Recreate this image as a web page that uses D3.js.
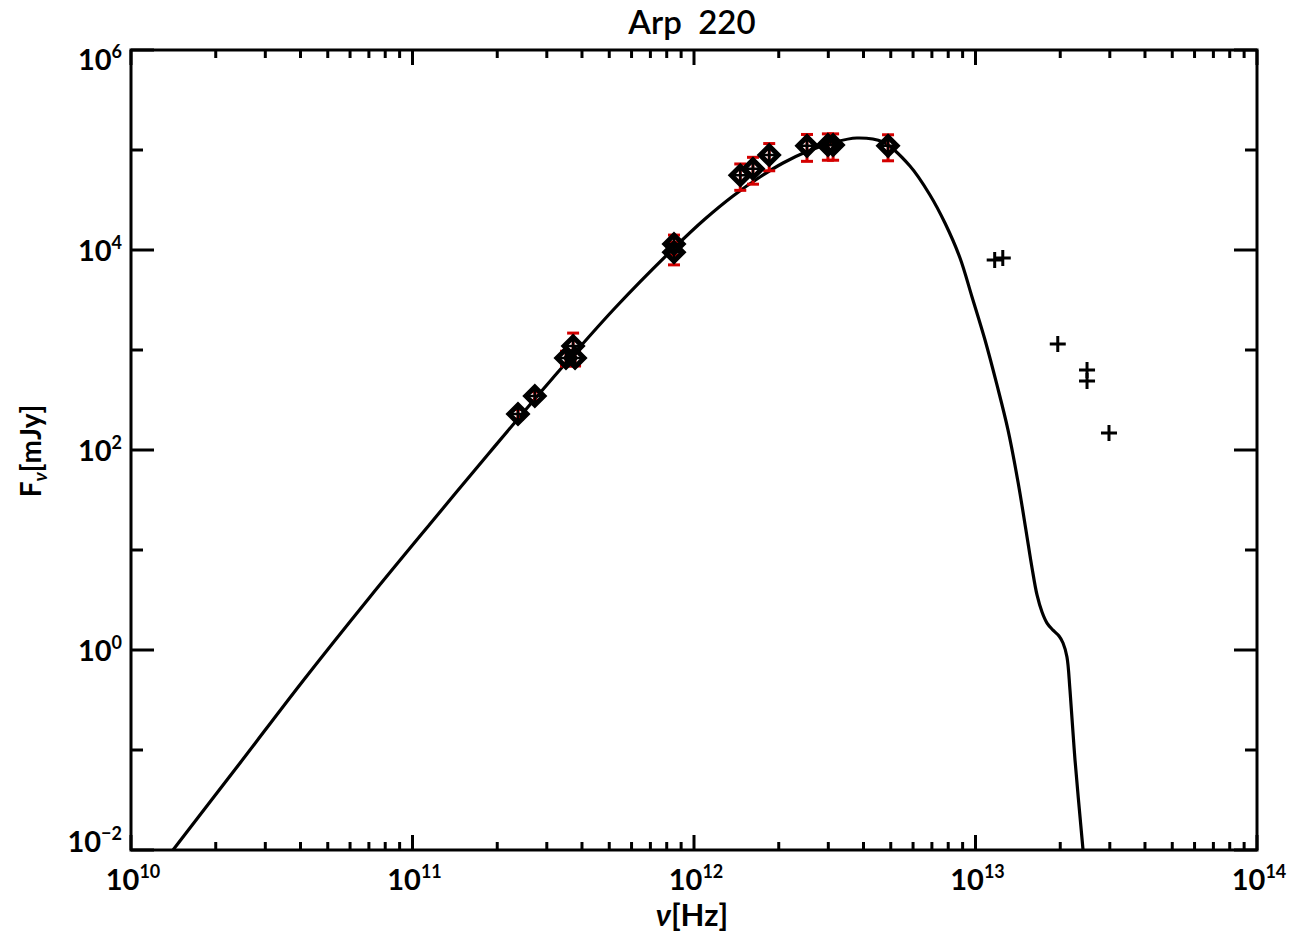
<!DOCTYPE html>
<meta charset="utf-8">
<script src="https://d3js.org/d3.v7.min.js"></script>
<style>
body { margin: 0; background: #fff; }
svg text { font-family: Lato, "DejaVu Sans", sans-serif; font-weight: 700; fill: #000; white-space: pre; }
</style>
<body>
<div id="chart"></div>
<script>

// model curve (nu in Hz, F_nu in mJy)
var nuModel = [1.41e10, 2.44e10, 4.08e10, 7.06e10, 1.154e11, 1.885e11, 3.13e11, 5.24e11,
  8.56e11, 1.094e12, 1.376e12, 1.716e12, 2.071e12, 2.52e12, 3.09e12, 3.79e12,
  4.69e12, 5.85e12, 6.89e12, 7.79e12, 8.81e12, 9.72e12, 1.081e13, 1.192e13,
  1.305e13, 1.416e13, 1.511e13, 1.588e13, 1.654e13, 1.723e13, 1.795e13, 1.885e13,
  1.980e13, 2.046e13, 2.113e13, 2.166e13, 2.257e13, 2.41e13];
var fluxModel = [0.01, 0.0741, 0.490, 3.39, 18.2, 95.5, 513, 2630,
  10700, 20400, 34700, 53700, 74100, 96600, 117500, 131800,
  120200, 69200, 35500, 18600, 8320, 3390, 1259, 447,
  158, 47.9, 15.8, 6.61, 3.55, 2.40, 1.86, 1.58,
  1.38, 1.175, 0.851, 0.398, 0.0794, 0.01];

// fitted photometry (diamonds with red error bars)
var nuObs   = [2.37e11, 2.72e11, 3.51e11, 3.78e11, 3.72e11, 8.49e11, 8.49e11,
  1.46e12, 1.62e12, 1.85e12, 2.52e12, 2.99e12, 3.12e12, 4.89e12];
var fluxObs = [229, 347, 832, 832, 1096, 11500, 9500,
  56000, 65000, 89000, 110000, 112000, 112000, 110000];
var errObs  = [25, 35, 140, 140, 380, 2600, 2400,
  16500, 19500, 27000, 33000, 33000, 33000, 32000];

// other points (plus signs)
var nuIR   = [1.17e13, 1.25e13, 1.96e13, 2.49e13, 2.49e13, 2.98e13];
var fluxIR = [7940, 8320, 1148, 631, 490, 148];

var xLabelExp = [10, 11, 12, 13, 14];
var yLabelExp = [-2, 0, 2, 4, 6];
var yDecadeExp = [-2, -1, 0, 1, 2, 3, 4, 5, 6];

var W = 1301, H = 941;
var pL = 131, pR = 1257, pT = 50, pB = 850;

var svg = d3.select('#chart').append('svg')
  .attr('width', W).attr('height', H);

var x = d3.scaleLog().domain([1e10, 1e14]).range([pL, pR]);
var y = d3.scaleLog().domain([1e-2, 1e6]).range([pB, pT]);

svg.append('clipPath').attr('id', 'clip')
  .append('rect').attr('x', pL).attr('y', pT)
  .attr('width', pR - pL).attr('height', pB - pT);

// ticks ---------------------------------------------------------
var ticks = svg.append('g').attr('stroke', '#000').attr('stroke-width', 3);

x.ticks().forEach(function(t) {
  var major = Math.abs(Math.log10(t) - Math.round(Math.log10(t))) < 1e-9;
  var len = major ? 15 : 8;
  ticks.append('line').attr('x1', x(t)).attr('x2', x(t)).attr('y1', pB).attr('y2', pB - len);
  ticks.append('line').attr('x1', x(t)).attr('x2', x(t)).attr('y1', pT).attr('y2', pT + len);
});

yDecadeExp.forEach(function(e) {
  var len = yLabelExp.indexOf(e) >= 0 ? 23 : 12;
  var yy = y(Math.pow(10, e));
  ticks.append('line').attr('x1', pL).attr('x2', pL + len).attr('y1', yy).attr('y2', yy);
  ticks.append('line').attr('x1', pR).attr('x2', pR - len).attr('y1', yy).attr('y2', yy);
});

// tick labels ---------------------------------------------------
function powLabel(sel, e) {
  sel.append('tspan').text('10').style('font-size', '29px');
  sel.append('tspan').text(e < 0 ? '\u2212' + (-e) : e)
    .attr('dy', -12).style('font-size', '18px');
}

xLabelExp.forEach(function(e) {
  var t = svg.append('text')
    .attr('x', x(Math.pow(10, e)) + 2).attr('y', 890)
    .attr('text-anchor', 'middle');
  powLabel(t, e);
});

yLabelExp.forEach(function(e) {
  var yy = y(Math.pow(10, e)) + 11;
  yy = Math.min(Math.max(yy, pT + 20), pB + 2);
  var t = svg.append('text')
    .attr('x', 122).attr('y', yy)
    .attr('text-anchor', 'end');
  powLabel(t, e);
});

// frame ---------------------------------------------------------
svg.append('rect')
  .attr('x', pL).attr('y', pT)
  .attr('width', pR - pL).attr('height', pB - pT)
  .attr('fill', 'none').attr('stroke', '#000').attr('stroke-width', 3);

// model ---------------------------------------------------------
var model = nuModel.map(function(n, i) { return [n, fluxModel[i]]; });
var line = d3.line()
  .x(function(d) { return x(d[0]); })
  .y(function(d) { return y(d[1]); })
  .curve(d3.curveCatmullRom.alpha(0.5));

svg.append('path')
  .attr('d', line(model))
  .attr('clip-path', 'url(#clip)')
  .attr('fill', 'none')
  .attr('stroke', '#000')
  .attr('stroke-width', 3.2);

// observed points -----------------------------------------------
var obs = nuObs.map(function(n, i) { return {nu: n, f: fluxObs[i], e: errObs[i]}; });
var gObs = svg.append('g');

var err = gObs.selectAll('.err').data(obs).enter().append('g')
  .attr('stroke', '#d40000').attr('stroke-width', 3);
err.append('line')
  .attr('x1', function(d) { return x(d.nu); }).attr('x2', function(d) { return x(d.nu); })
  .attr('y1', function(d) { return y(d.f - d.e); }).attr('y2', function(d) { return y(d.f + d.e); });
err.append('line')
  .attr('x1', function(d) { return x(d.nu) - 6; }).attr('x2', function(d) { return x(d.nu) + 6; })
  .attr('y1', function(d) { return y(d.f + d.e); }).attr('y2', function(d) { return y(d.f + d.e); });
err.append('line')
  .attr('x1', function(d) { return x(d.nu) - 6; }).attr('x2', function(d) { return x(d.nu) + 6; })
  .attr('y1', function(d) { return y(d.f - d.e); }).attr('y2', function(d) { return y(d.f - d.e); });

gObs.selectAll('.dia').data(obs).enter().append('path')
  .attr('d', function(d) {
    var cx = x(d.nu), cy = y(d.f), r = 9;
    return 'M' + (cx - r) + ',' + cy + 'L' + cx + ',' + (cy - r) + 'L' + (cx + r) + ',' + cy + 'L' + cx + ',' + (cy + r) + 'Z';
  })
  .attr('fill', 'none').attr('stroke', '#000').attr('stroke-width', 5)
  .attr('stroke-linejoin', 'miter');

function plus(g, cx, cy, r, w) {
  g.append('path')
    .attr('d', 'M' + (cx - r) + ',' + cy + 'H' + (cx + r) + 'M' + cx + ',' + (cy - r) + 'V' + (cy + r))
    .attr('stroke', '#000').attr('stroke-width', w).attr('fill', 'none');
}
obs.forEach(function(d) { plus(gObs, x(d.nu), y(d.f), 6, 2.5); });

// IR points -----------------------------------------------------
var gIR = svg.append('g');
nuIR.forEach(function(n, i) { plus(gIR, x(n), y(fluxIR[i]), 8, 3); });

// titles --------------------------------------------------------
svg.append('text')
  .attr('x', 692).attr('y', 34)
  .attr('text-anchor', 'middle')
  .style('font-size', '33px')
  .style('font-weight', 600)
  .text('Arp  220');

var xl = svg.append('text')
  .attr('x', 692).attr('y', 926)
  .attr('text-anchor', 'middle')
  .style('font-size', '31px');
xl.append('tspan').text('\u03bd').style('font-style', 'italic');
xl.append('tspan').text('[Hz]');

var yl = svg.append('text')
  .attr('transform', 'translate(41,451) rotate(-90)')
  .attr('text-anchor', 'middle')
  .style('font-size', '28px');
yl.append('tspan').text('F');
yl.append('tspan').text('\u03bd').attr('dy', 6).style('font-size', '19px').style('font-style', 'italic');
yl.append('tspan').text('[mJy]').attr('dy', -6);

</script>
</body>
